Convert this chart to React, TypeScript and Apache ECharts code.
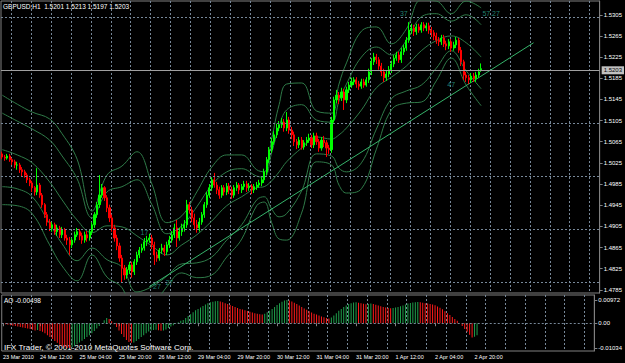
import React, { useEffect, useRef } from 'react';
import * as echarts from 'echarts';

const symbolName = 'GBPUSD,H1';
const quote = ['1.5201', '1.5213', '1.5197', '1.5203'];
const lastPrice = 1.5203;

// [open, close, low, high] per H1 bar
const candles: number[][] = [
  [1.5042,1.5036,1.5032,1.5046],[1.5036,1.5034,1.5029,1.5040],[1.5034,1.5038,1.5031,1.5042],[1.5038,1.5031,1.5027,1.5042],
  [1.5031,1.5027,1.5021,1.5034],[1.5027,1.5021,1.5015,1.5031],[1.5021,1.5021,1.5012,1.5027],[1.5021,1.5012,1.5006,1.5025],
  [1.5012,1.5008,1.5000,1.5017],[1.5008,1.5002,1.4997,1.5012],[1.5002,1.4993,1.4987,1.5006],[1.4993,1.4987,1.4981,1.4997],
  [1.4987,1.4978,1.4970,1.4991],[1.4978,1.4970,1.4963,1.4981],[1.4970,1.4983,1.4964,1.5015],[1.4983,1.4964,1.4959,1.4987],
  [1.4964,1.4946,1.4940,1.4968],[1.4946,1.4927,1.4921,1.4949],[1.4927,1.4913,1.4906,1.4932],[1.4913,1.4902,1.4896,1.4919],
  [1.4902,1.4908,1.4895,1.4913],[1.4908,1.4895,1.4889,1.4912],[1.4895,1.4902,1.4887,1.4908],[1.4902,1.4889,1.4883,1.4906],
  [1.4889,1.4898,1.4883,1.4904],[1.4898,1.4883,1.4878,1.4902],[1.4883,1.4879,1.4870,1.4889],[1.4879,1.4870,1.4851,1.4885],
  [1.4870,1.4879,1.4864,1.4883],[1.4879,1.4889,1.4874,1.4895],[1.4889,1.4895,1.4885,1.4902],[1.4895,1.4887,1.4879,1.4900],
  [1.4887,1.4879,1.4872,1.4893],[1.4879,1.4889,1.4874,1.4895],[1.4889,1.4883,1.4876,1.4896],[1.4883,1.4895,1.4878,1.4900],
  [1.4895,1.4908,1.4889,1.4913],[1.4908,1.4927,1.4902,1.4932],[1.4927,1.4946,1.4921,1.4951],[1.4946,1.4964,1.4940,1.5002],
  [1.4964,1.4978,1.4959,1.4985],[1.4978,1.4959,1.4953,1.4981],[1.4959,1.4940,1.4932,1.4964],[1.4940,1.4921,1.4913,1.4946],
  [1.4921,1.4902,1.4895,1.4927],[1.4902,1.4883,1.4876,1.4908],[1.4883,1.4868,1.4860,1.4889],[1.4868,1.4845,1.4838,1.4874],
  [1.4845,1.4826,1.4798,1.4851],[1.4826,1.4813,1.4804,1.4832],[1.4813,1.4823,1.4806,1.4828],[1.4823,1.4832,1.4815,1.4838],
  [1.4832,1.4819,1.4808,1.4838],[1.4819,1.4838,1.4813,1.4843],[1.4838,1.4851,1.4832,1.4857],[1.4851,1.4860,1.4845,1.4866],
  [1.4860,1.4864,1.4855,1.4872],[1.4864,1.4876,1.4859,1.4883],[1.4876,1.4879,1.4868,1.4887],[1.4879,1.4883,1.4874,1.4891],
  [1.4883,1.4870,1.4862,1.4889],[1.4870,1.4851,1.4832,1.4876],[1.4851,1.4845,1.4838,1.4857],[1.4845,1.4860,1.4840,1.4864],
  [1.4860,1.4864,1.4853,1.4872],[1.4864,1.4857,1.4849,1.4870],[1.4857,1.4870,1.4851,1.4876],[1.4870,1.4879,1.4864,1.4887],
  [1.4879,1.4889,1.4874,1.4896],[1.4889,1.4902,1.4883,1.4910],[1.4902,1.4883,1.4866,1.4917],[1.4883,1.4895,1.4878,1.4902],
  [1.4895,1.4902,1.4887,1.4910],[1.4902,1.4908,1.4895,1.4917],[1.4908,1.4946,1.4902,1.4955],[1.4946,1.4936,1.4929,1.4951],
  [1.4936,1.4921,1.4913,1.4942],[1.4921,1.4908,1.4898,1.4929],[1.4908,1.4902,1.4893,1.4917],[1.4902,1.4913,1.4895,1.4921],
  [1.4913,1.4927,1.4908,1.4932],[1.4927,1.4946,1.4921,1.4951],[1.4946,1.4964,1.4940,1.4970],[1.4964,1.4978,1.4959,1.4985],
  [1.4978,1.4993,1.4972,1.4998],[1.4993,1.4983,1.4978,1.5006],[1.4983,1.4974,1.4966,1.4989],[1.4974,1.4964,1.4957,1.4980],
  [1.4964,1.4978,1.4959,1.4983],[1.4978,1.4970,1.4963,1.4983],[1.4970,1.4981,1.4964,1.4987],[1.4981,1.4974,1.4966,1.4987],
  [1.4974,1.4964,1.4957,1.4980],[1.4964,1.4978,1.4959,1.4983],[1.4978,1.4983,1.4972,1.4989],[1.4983,1.4974,1.4966,1.4987],
  [1.4974,1.4980,1.4968,1.4985],[1.4980,1.4985,1.4974,1.4991],[1.4985,1.4978,1.4970,1.4991],[1.4978,1.4981,1.4972,1.4987],
  [1.4981,1.4974,1.4966,1.4985],[1.4974,1.4980,1.4968,1.4985],[1.4980,1.4983,1.4974,1.4989],[1.4983,1.4987,1.4978,1.4993],
  [1.4987,1.4993,1.4981,1.4998],[1.4993,1.5008,1.4987,1.5014],[1.5008,1.5031,1.5002,1.5036],[1.5031,1.5050,1.5025,1.5055],
  [1.5050,1.5065,1.5044,1.5072],[1.5065,1.5078,1.5059,1.5085],[1.5078,1.5091,1.5072,1.5099],[1.5091,1.5097,1.5085,1.5104],
  [1.5097,1.5102,1.5091,1.5110],[1.5102,1.5091,1.5084,1.5108],[1.5091,1.5106,1.5085,1.5121],[1.5106,1.5087,1.5080,1.5112],
  [1.5087,1.5078,1.5070,1.5093],[1.5078,1.5065,1.5057,1.5084],[1.5065,1.5059,1.5051,1.5070],[1.5059,1.5068,1.5053,1.5074],
  [1.5068,1.5055,1.5050,1.5074],[1.5055,1.5063,1.5050,1.5068],[1.5063,1.5068,1.5057,1.5074],[1.5068,1.5072,1.5063,1.5080],
  [1.5072,1.5059,1.5053,1.5078],[1.5059,1.5076,1.5053,1.5082],[1.5076,1.5065,1.5059,1.5082],[1.5065,1.5053,1.5046,1.5070],
  [1.5053,1.5068,1.5048,1.5074],[1.5068,1.5063,1.5055,1.5076],[1.5063,1.5053,1.5036,1.5068],[1.5053,1.5050,1.5042,1.5059],
  [1.5050,1.5106,1.5044,1.5112],[1.5106,1.5144,1.5101,1.5150],[1.5144,1.5153,1.5138,1.5163],[1.5153,1.5148,1.5136,1.5159],
  [1.5148,1.5159,1.5142,1.5167],[1.5159,1.5144,1.5125,1.5165],[1.5144,1.5163,1.5138,1.5169],[1.5163,1.5172,1.5157,1.5178],
  [1.5172,1.5178,1.5167,1.5186],[1.5178,1.5182,1.5172,1.5187],[1.5182,1.5174,1.5167,1.5187],[1.5174,1.5170,1.5163,1.5180],
  [1.5170,1.5178,1.5165,1.5184],[1.5178,1.5172,1.5167,1.5184],[1.5172,1.5182,1.5169,1.5187],[1.5182,1.5197,1.5176,1.5203],
  [1.5197,1.5216,1.5191,1.5223],[1.5216,1.5225,1.5210,1.5233],[1.5225,1.5220,1.5212,1.5231],[1.5220,1.5208,1.5201,1.5225],
  [1.5208,1.5197,1.5189,1.5214],[1.5197,1.5186,1.5178,1.5203],[1.5186,1.5193,1.5180,1.5199],[1.5193,1.5201,1.5187,1.5208],
  [1.5201,1.5212,1.5195,1.5218],[1.5212,1.5223,1.5206,1.5229],[1.5223,1.5229,1.5218,1.5235],[1.5229,1.5220,1.5214,1.5235],
  [1.5220,1.5235,1.5214,1.5242],[1.5235,1.5242,1.5229,1.5248],[1.5242,1.5257,1.5237,1.5263],[1.5257,1.5276,1.5252,1.5291],
  [1.5276,1.5280,1.5269,1.5288],[1.5280,1.5273,1.5265,1.5286],[1.5273,1.5282,1.5267,1.5288],[1.5282,1.5276,1.5271,1.5288],
  [1.5276,1.5286,1.5271,1.5291],[1.5286,1.5280,1.5274,1.5291],[1.5280,1.5284,1.5274,1.5290],[1.5284,1.5276,1.5269,1.5290],
  [1.5276,1.5271,1.5263,1.5282],[1.5271,1.5265,1.5257,1.5276],[1.5265,1.5257,1.5250,1.5271],[1.5257,1.5254,1.5246,1.5263],
  [1.5254,1.5261,1.5248,1.5267],[1.5261,1.5250,1.5244,1.5267],[1.5250,1.5246,1.5238,1.5256],[1.5246,1.5254,1.5240,1.5259],
  [1.5254,1.5242,1.5235,1.5259],[1.5242,1.5248,1.5237,1.5254],[1.5248,1.5257,1.5242,1.5263],[1.5257,1.5238,1.5233,1.5261],
  [1.5238,1.5216,1.5208,1.5244],[1.5216,1.5191,1.5182,1.5220],[1.5191,1.5186,1.5178,1.5197],[1.5186,1.5182,1.5174,1.5191],
  [1.5182,1.5189,1.5176,1.5195],[1.5189,1.5184,1.5178,1.5195],[1.5184,1.5191,1.5178,1.5197],[1.5191,1.5197,1.5186,1.5203],
  [1.5201,1.5203,1.5197,1.5213],
];

// Bollinger-type envelope lines, read at sample bars
const bandBars = [0,6,12,19,24,30,36,42,48,54,60,66,72,78,84,90,96,102,105,108,111,114,120,126,132,135,138,144,150,156,162,168,174,180,186,192];
const bandMid = [1.5050,1.5040,1.5025,1.4989,1.4955,1.4917,1.4893,1.4906,1.4904,1.4887,1.4868,1.4851,1.4870,1.4889,1.4915,1.4944,1.4961,1.4978,1.4980,1.4991,1.5008,1.5027,1.5053,1.5074,1.5070,1.5078,1.5091,1.5125,1.5167,1.5187,1.5208,1.5237,1.5256,1.5265,1.5252,1.5225];
const bandUp1 = [1.5119,1.5104,1.5089,1.5068,1.5038,1.4995,1.4921,1.4970,1.4980,1.4993,1.4946,1.4891,1.4906,1.4942,1.4983,1.5008,1.5014,1.5000,1.4998,1.5044,1.5093,1.5125,1.5135,1.5106,1.5102,1.5142,1.5174,1.5225,1.5244,1.5229,1.5256,1.5301,1.5307,1.5293,1.5305,1.5286];
const bandLo1 = [1.4980,1.4976,1.4961,1.4910,1.4872,1.4840,1.4864,1.4842,1.4828,1.4781,1.4791,1.4811,1.4834,1.4836,1.4847,1.4879,1.4908,1.4955,1.4961,1.4938,1.4923,1.4929,1.4972,1.5042,1.5038,1.5015,1.5008,1.5025,1.5089,1.5146,1.5161,1.5172,1.5204,1.5237,1.5199,1.5165];
const bandUp2 = [1.5153,1.5136,1.5121,1.5108,1.5080,1.5032,1.4934,1.5002,1.5019,1.5046,1.4985,1.4912,1.4925,1.4970,1.5017,1.5040,1.5040,1.5012,1.5008,1.5070,1.5135,1.5174,1.5176,1.5123,1.5119,1.5174,1.5214,1.5274,1.5282,1.5250,1.5278,1.5333,1.5331,1.5307,1.5331,1.5318];
const bandLo2 = [1.4946,1.4944,1.4929,1.4870,1.4830,1.4802,1.4851,1.4809,1.4789,1.4728,1.4751,1.4791,1.4817,1.4808,1.4813,1.4847,1.4881,1.4944,1.4951,1.4912,1.4881,1.4879,1.4930,1.5027,1.5021,1.4983,1.4968,1.4976,1.5051,1.5125,1.5138,1.5140,1.5180,1.5223,1.5172,1.5133];

// trend line anchors
const trendBars = [59, 213];
const trendPrices = [1.4791, 1.5252];

// small indicator tags
const tagTexts = ['17', '27', '27', '37', '47', '57.27'];
const tagBars = [57, 62, 67, 161, 180, 196];
const tagPrices = [1.4893, 1.4791, 1.4798, 1.5307, 1.5174, 1.5307];

// Awesome Oscillator
const aoValues = [
  -0.0002,-0.0004,-0.0006,-0.0008,-0.0010,-0.0012,-0.0014,-0.0016,-0.0018,-0.0020,-0.0022,-0.0024,-0.0027,-0.0030,-0.0028,-0.0032,
  -0.0036,-0.0042,-0.0050,-0.0058,-0.0066,-0.0074,-0.0082,-0.0090,-0.0096,-0.0100,-0.0103,-0.01034,-0.0100,-0.0094,-0.0088,-0.0080,
  -0.0073,-0.0066,-0.0058,-0.0050,-0.0042,-0.0032,-0.0022,-0.0012,0.0000,0.0012,0.0022,0.0018,0.0008,-0.0004,-0.0016,-0.0030,
  -0.0045,-0.0058,-0.0070,-0.0078,-0.0082,-0.0080,-0.0074,-0.0066,-0.0058,-0.0050,-0.0042,-0.0035,-0.0030,-0.0028,-0.0027,-0.0029,
  -0.0031,-0.0030,-0.0026,-0.0020,-0.0014,-0.0008,-0.0002,0.0004,0.0010,0.0014,0.0022,0.0030,0.0038,0.0046,0.0054,0.0060,
  0.0066,0.0072,0.0078,0.0084,0.0088,0.0090,0.0092,0.0093,0.0091,0.0088,0.0084,0.0080,0.0076,0.0072,0.0068,0.0064,
  0.0060,0.0057,0.0054,0.0051,0.0048,0.0045,0.0042,0.0040,0.0038,0.0037,0.0040,0.0046,0.0052,0.0060,0.0068,0.0076,
  0.0084,0.0090,0.0095,0.00972,0.0095,0.0091,0.0086,0.0080,0.0074,0.0068,0.0062,0.0056,0.0050,0.0045,0.0040,0.0036,
  0.0032,0.0028,0.0025,0.0022,0.0020,0.0024,0.0032,0.0042,0.0052,0.0060,0.0068,0.0074,0.0080,0.0084,0.0087,0.0088,
  0.0086,0.0084,0.0081,0.0079,0.0080,0.0082,0.0080,0.0077,0.0074,0.0071,0.0068,0.0066,0.0064,0.0063,0.0064,0.0066,
  0.0068,0.0071,0.0074,0.0078,0.0082,0.0085,0.0087,0.0088,0.0089,0.0088,0.0086,0.0084,0.0082,0.0080,0.0078,0.0075,
  0.0070,0.0065,0.0058,0.0050,0.0042,0.0034,0.0026,0.0018,0.0010,0.0000,-0.0012,-0.0024,-0.0036,-0.0048,-0.0060,-0.0056,
  -0.00498,
];

const priceTicks = [1.4785,1.4825,1.4865,1.4905,1.4945,1.4985,1.5025,1.5065,1.5105,1.5145,1.5185,1.5225,1.5265,1.5305];
const aoTicks = [0.00972, 0, -0.01034];
const timeLabelBars = [0, 15, 31, 47, 63, 79, 95, 111, 127, 143, 159, 175, 191];
const timeLabels = ['23 Mar 2010','24 Mar 12:00','25 Mar 04:00','25 Mar 20:00','26 Mar 12:00','29 Mar 04:00','29 Mar 20:00','30 Mar 12:00','31 Mar 04:00','31 Mar 20:00','1 Apr 12:00','2 Apr 04:00','2 Apr 20:00'];
const totalSlots = 240;

const FONT = 'Liberation Sans';
const FS = 6.5;
const FS_TIME = 5.5;
const TXT = '#ffffff';
const AXIS = '#808080';
const GRID = '#778899';
const BAND = '#2f7a48';

export default function App() {
  const ref = useRef<HTMLDivElement>(null);
  useEffect(() => {
    if (!ref.current) return;
    const chart = echarts.init(ref.current, undefined, { renderer: 'svg' });
    const cats = Array.from({ length: totalSlots }, (_, i) => String(i));
    const gridLine = { color: GRID, type: [2, 2] as any, width: 1 };
    const vSplit = { show: true, interval: (i: number) => i % 8 === 4, lineStyle: gridLine };
    const band = (arr: number[]) => ({
      type: 'line', xAxisIndex: 0, yAxisIndex: 0, smooth: 0.4, symbol: 'none', silent: true,
      lineStyle: { color: BAND, width: 1 }, data: bandBars.map((b, i) => [b, arr[i]]), z: 2,
    });
    const aoData = aoValues.map((v, i) => ({
      value: v,
      itemStyle: { color: i > 0 && v > aoValues[i - 1] ? '#1fa04c' : '#ff1a1a' },
    }));
    const option: any = {
      animation: false,
      backgroundColor: '#000000',
      textStyle: { fontFamily: FONT },
      grid: [
        { left: 1, right: 23, top: 1, height: 292, show: true, borderColor: AXIS, borderWidth: 1 },
        { left: 1, right: 23, top: 295, height: 56, show: true, borderColor: AXIS, borderWidth: 1 },
      ],
      xAxis: [
        { type: 'category', gridIndex: 0, data: cats, axisLine: { show: false }, axisTick: { show: false }, axisLabel: { show: false }, splitLine: vSplit },
        {
          type: 'category', gridIndex: 1, data: cats, axisLine: { show: false },
          axisTick: { show: true, interval: (i: number) => timeLabelBars.includes(i), alignWithLabel: true, length: 3, lineStyle: { color: AXIS } },
          axisLabel: {
            show: true, interval: (i: number) => timeLabelBars.includes(i),
            formatter: (v: string) => timeLabels[timeLabelBars.indexOf(Number(v))] ?? '',
            align: 'left', color: TXT, fontSize: FS_TIME, fontFamily: FONT, margin: 3,
          },
          splitLine: vSplit,
        },
      ],
      yAxis: [
        {
          type: 'value', gridIndex: 0, position: 'right', min: 1.4779, max: 1.5331,
          axisLine: { show: true, lineStyle: { color: AXIS } },
          axisTick: { show: true, customValues: priceTicks, length: 3, lineStyle: { color: AXIS } },
          axisLabel: { customValues: priceTicks, formatter: (v: number) => v.toFixed(4), color: TXT, fontSize: 6, fontFamily: FONT, margin: 4 },
          splitLine: { show: false },
        },
        {
          type: 'value', gridIndex: 1, position: 'right', min: -0.0116, max: 0.0118,
          axisLine: { show: true, lineStyle: { color: AXIS } },
          axisTick: { show: true, customValues: aoTicks, length: 3, lineStyle: { color: AXIS } },
          axisLabel: { customValues: aoTicks, formatter: (v: number) => (v === 0 ? '0.00' : v.toFixed(5)), color: TXT, fontSize: 6, fontFamily: FONT, margin: 4 },
          splitLine: { show: false },
        },
      ],
      series: [
        {
          type: 'line', xAxisIndex: 0, yAxisIndex: 0, data: [], silent: true, z: 1,
          markLine: {
            silent: true, symbol: ['none', 'none'], label: { show: false }, animation: false,
            lineStyle: gridLine, data: priceTicks.map((v) => ({ yAxis: v })),
          },
        },
        band(bandUp2), band(bandUp1), band(bandMid), band(bandLo1), band(bandLo2),
        {
          type: 'line', xAxisIndex: 0, yAxisIndex: 0, symbol: 'none', silent: true, z: 3,
          lineStyle: { color: '#35b36a', width: 1 }, data: trendBars.map((b, i) => [b, trendPrices[i]]),
        },
        {
          type: 'candlestick', xAxisIndex: 0, yAxisIndex: 0, data: candles, barWidth: 1.6, z: 4,
          itemStyle: { color: '#00ff00', color0: '#ff0000', borderColor: '#00ff00', borderColor0: '#ff0000', borderWidth: 1 },
          markLine: {
            silent: true, symbol: ['none', 'none'], animation: false,
            lineStyle: { color: '#a0a0a0', type: 'solid', width: 1 },
            label: {
              show: true, position: 'end', formatter: lastPrice.toFixed(4), color: '#000000',
              backgroundColor: '#c0c0c0', padding: [1, 2], fontSize: 6, fontFamily: FONT, distance: 2,
            },
            data: [{ yAxis: lastPrice }],
          },
        },
        {
          type: 'scatter', xAxisIndex: 0, yAxisIndex: 0, symbolSize: 1, silent: true, z: 5,
          itemStyle: { color: 'rgba(0,0,0,0)' },
          label: { show: true, position: 'inside', formatter: (p: any) => p.name, color: '#2aa08e', fontSize: 7, fontFamily: FONT },
          data: tagTexts.map((t, i) => ({ name: t, value: [tagBars[i], tagPrices[i]] })),
        },
        {
          type: 'bar', xAxisIndex: 1, yAxisIndex: 1, barWidth: 1, data: aoData, silent: true,
          markLine: {
            silent: true, symbol: ['none', 'none'], label: { show: false }, animation: false,
            lineStyle: gridLine, data: [{ yAxis: 0 }],
          },
        },
      ],
      graphic: [
        { type: 'text', left: 3, top: 3, style: { text: `${symbolName}  ${quote.join(' ')}`, fill: TXT, font: `${FS}px "${FONT}"` } },
        { type: 'text', left: 4, top: 297, style: { text: `AO ${aoValues[aoValues.length - 1].toFixed(5)}`, fill: TXT, font: `${FS}px "${FONT}"` } },
        { type: 'text', left: 4, top: 343, style: { text: 'IFX Trader, © 2001-2010 MetaQuotes Software Corp.', fill: TXT, font: `8px "${FONT}"` } },
      ],
    };
    chart.setOption(option);
    return () => chart.dispose();
  }, []);
  return <div ref={ref} style={{ position: 'fixed', left: 0, top: 0, width: 625, height: 363, background: '#000' }} />;
}
